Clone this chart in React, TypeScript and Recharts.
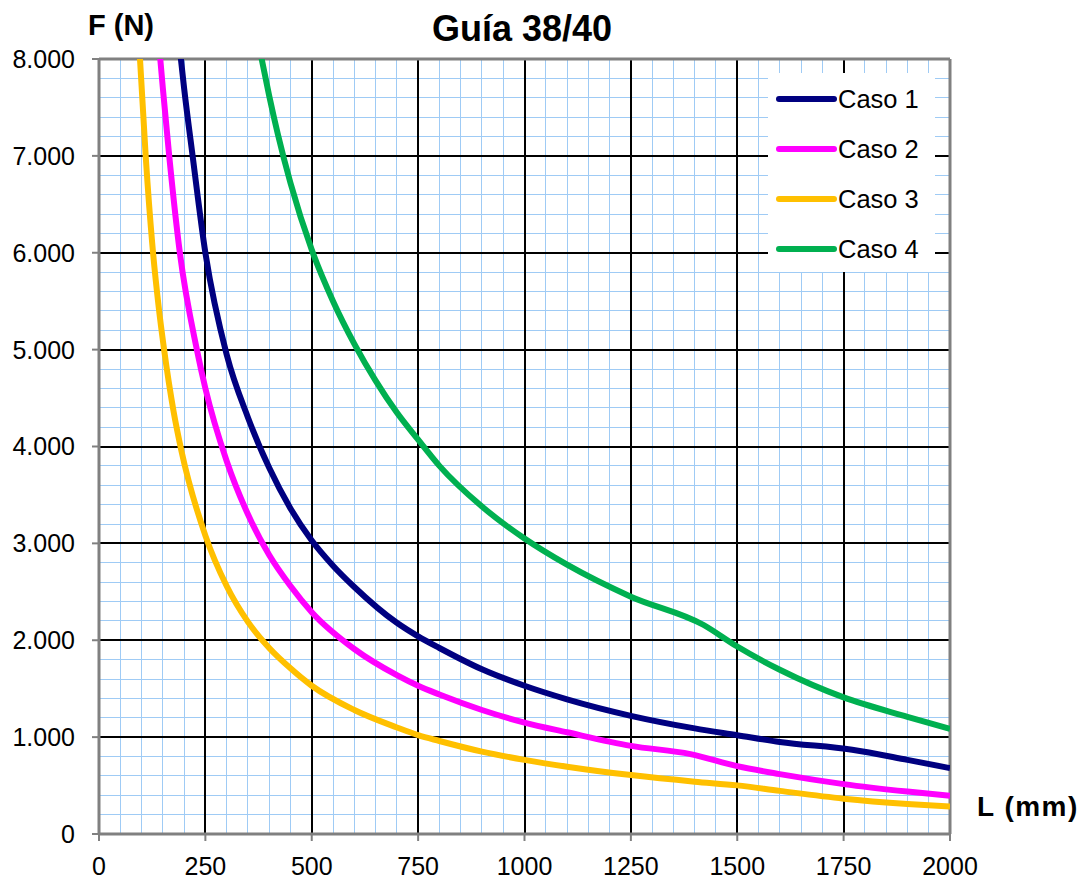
import React from 'react';
import { LineChart, Line, XAxis, YAxis, CartesianGrid, ReferenceLine } from 'recharts';

const L_CASO1 = [190, 200, 220, 250, 300, 350, 400, 450, 500, 550, 600, 700, 750, 800, 900, 1000, 1100, 1250, 1400, 1500, 1600, 1770, 1900, 2000];
const F_CASO1 = [8100, 7700, 7000, 6000, 4950, 4300, 3780, 3360, 3030, 2770, 2550, 2180, 2040, 1920, 1700, 1530, 1390, 1220, 1090, 1020, 950, 870, 765, 680];

const L_CASO2 = [140, 150, 165, 190, 230, 250, 300, 350, 400, 450, 500, 600, 700, 750, 800, 900, 1000, 1100, 1250, 1390, 1500, 1600, 1750, 1900, 2000];
const F_CASO2 = [8200, 7700, 7000, 6000, 5000, 4600, 3850, 3300, 2880, 2560, 2290, 1910, 1640, 1530, 1440, 1280, 1150, 1050, 910, 825, 700, 618, 515, 438, 395];

const L_CASO3 = [95, 110, 125, 140, 153, 175, 194, 250, 300, 350, 400, 450, 500, 600, 700, 750, 800, 900, 1000, 1100, 1250, 1400, 1500, 1600, 1750, 1900, 2000];
const F_CASO3 = [8100, 6980, 6100, 5450, 5000, 4370, 3950, 3080, 2560, 2190, 1920, 1710, 1530, 1280, 1100, 1020, 960, 850, 765, 695, 608, 540, 502, 445, 365, 310, 283];

const L_CASO4 = [380, 400, 420, 450, 500, 550, 600, 650, 700, 750, 800, 900, 1000, 1100, 1250, 1420, 1500, 1600, 1750, 1900, 2000];
const F_CASO4 = [8050, 7620, 7230, 6720, 6030, 5500, 5060, 4680, 4350, 4070, 3800, 3380, 3050, 2780, 2450, 2160, 1935, 1695, 1410, 1210, 1085];

const X_TICKS = [0, 250, 500, 750, 1000, 1250, 1500, 1750, 2000];
const Y_TICKS = [0, 1000, 2000, 3000, 4000, 5000, 6000, 7000, 8000];
const X_MINOR = Array.from({ length: 41 }, (_, i) => i * 50);
const Y_MINOR = Array.from({ length: 41 }, (_, i) => i * 200);

const toPoints = (ls: number[], fs: number[]) => ls.map((l, i) => ({ L: l, F: fs[i] }));

const SERIES = [
  { name: 'Caso 1', color: '#000080', data: toPoints(L_CASO1, F_CASO1) },
  { name: 'Caso 2', color: '#FF00FF', data: toPoints(L_CASO2, F_CASO2) },
  { name: 'Caso 3', color: '#FFC000', data: toPoints(L_CASO3, F_CASO3) },
  { name: 'Caso 4', color: '#00B050', data: toPoints(L_CASO4, F_CASO4) },
];

const FONT = '"Liberation Sans", Arial, sans-serif';
const GREY = '#808080';

const formatF = (v: number) => (v === 0 ? '0' : `${v / 1000}.000`);

// grid lines drawn crisp so the thin blue lines do not blur away
const gridLine = (color: string, width: number) => (p: any) => (
  <line
    key={p.key ?? `${p.index}-${p.x1}-${p.y1}`}
    x1={p.x1}
    y1={p.y1}
    x2={p.x2}
    y2={p.y2}
    stroke={color}
    strokeWidth={width}
    shapeRendering="crispEdges"
  />
);

const App: React.FC = () => {
  return (
    <div style={{ position: 'absolute', left: 0, top: 0, width: 1086, height: 883, background: '#fff', fontFamily: FONT }}>
      <LineChart width={1086} height={883} margin={{ top: 59, right: 136, bottom: 9, left: 9 }}>
        <CartesianGrid
          horizontalValues={Y_MINOR}
          verticalValues={X_MINOR}
          horizontal={gridLine('#9FCBF5', 1)}
          vertical={gridLine('#9FCBF5', 1)}
        />
        <CartesianGrid
          horizontalValues={Y_TICKS}
          verticalValues={X_TICKS}
          horizontal={gridLine('#000000', 2)}
          vertical={gridLine('#000000', 2)}
        />
        <XAxis
          type="number"
          dataKey="L"
          domain={[0, 2000]}
          ticks={X_TICKS}
          interval={0}
          height={40}
          allowDataOverflow
          axisLine={{ stroke: GREY, strokeWidth: 3 }}
          tickLine={{ stroke: GREY, strokeWidth: 2 }}
          tickSize={7}
          tickMargin={16}
          tick={{ fill: '#000', fontSize: 25, fontFamily: FONT }}
        />
        <YAxis
          type="number"
          dataKey="F"
          domain={[0, 8000]}
          ticks={Y_TICKS}
          interval={0}
          width={90}
          allowDataOverflow
          tickFormatter={formatF}
          axisLine={{ stroke: GREY, strokeWidth: 3 }}
          tickLine={{ stroke: GREY, strokeWidth: 2 }}
          tickSize={7}
          tickMargin={17}
          tick={{ fill: '#000', fontSize: 25, fontFamily: FONT }}
        />
        <ReferenceLine y={8000} stroke={GREY} strokeWidth={3} />
        <ReferenceLine x={2000} stroke={GREY} strokeWidth={3} />
        {SERIES.map(s => (
          <Line
            key={s.name}
            name={s.name}
            data={s.data}
            dataKey="F"
            type="monotone"
            stroke={s.color}
            strokeWidth={6}
            dot={false}
            activeDot={false}
            isAnimationActive={false}
          />
        ))}
      </LineChart>

      <svg width={1086} height={883} style={{ position: 'absolute', left: 0, top: 0, pointerEvents: 'none' }}>
        <text x={522} y={41} textAnchor="middle" fontSize={36} fontWeight="bold" fontFamily={FONT}>Guía 38/40</text>
        <text x={88} y={35} fontSize={29} fontWeight="bold" fontFamily={FONT}>F (N)</text>
        <text x={977} y={816} fontSize={28} fontWeight="bold" fontFamily={FONT} letterSpacing={1.5}>L (mm)</text>
        <rect x={768} y={73} width={167} height={199} fill="#fff" />
        {SERIES.map((s, i) => (
          <g key={s.name}>
            <line x1={779} x2={834} y1={99 + i * 50} y2={99 + i * 50} stroke={s.color} strokeWidth={6} strokeLinecap="round" />
            <text x={838} y={108 + i * 50} fontSize={25.5} fontFamily={FONT}>{s.name}</text>
          </g>
        ))}
      </svg>
    </div>
  );
};

export default App;
